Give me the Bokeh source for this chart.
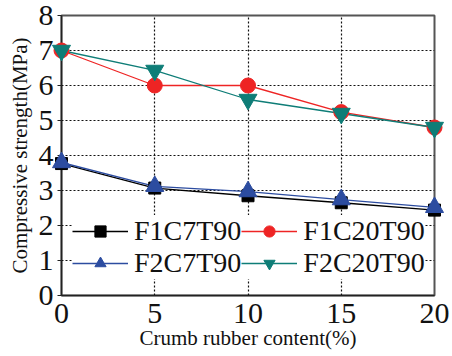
from bokeh.plotting import figure
from bokeh.models import Legend, LegendItem, FixedTicker, Range1d
from bokeh.embed import file_html
from bokeh.resources import INLINE

# Crumb rubber content (%)
content = [0, 5, 10, 15, 20]

# Compressive strength (MPa) per mix
f1c7t90 = [3.77, 3.07, 2.85, 2.65, 2.44]
f1c20t90 = [7.0, 6.0, 6.0, 5.24, 4.8]
f2c7t90 = [3.8, 3.12, 2.97, 2.74, 2.52]
f2c20t90 = [7.0, 6.43, 5.6, 5.2, 4.8]

x_ticks = [0, 5, 10, 15, 20]
y_ticks = [0, 1, 2, 3, 4, 5, 6, 7, 8]

FONT = "Liberation Serif"

p = figure(width=452, height=356, output_backend="svg", toolbar_location=None,
           x_range=Range1d(0, 20), y_range=Range1d(0, 8),
           min_border_left=61, min_border_right=18,
           min_border_top=15, min_border_bottom=61)

p.outline_line_color = "#555555"
p.outline_line_width = 2

for ax in (p.xaxis[0], p.yaxis[0]):
    ax.axis_line_color = "#222222"
    ax.axis_line_width = 1.5
    ax.major_label_text_font = FONT
    ax.major_label_text_font_size = "30px"
    ax.major_label_text_color = "#111111"
    ax.axis_label_text_font = FONT
    ax.axis_label_text_font_size = "21px"
    ax.axis_label_text_font_style = "normal"
    ax.axis_label_text_color = "#111111"
    ax.minor_tick_line_color = None
    ax.major_tick_line_color = "#222222"

p.xaxis.ticker = FixedTicker(ticks=x_ticks)
p.yaxis.ticker = FixedTicker(ticks=y_ticks)
p.xaxis.major_tick_in = 0
p.xaxis.major_tick_out = 0
p.yaxis.major_tick_in = 0
p.yaxis.major_tick_out = 4
p.xaxis.major_label_standoff = 8
p.yaxis.major_label_standoff = 4
p.xaxis.axis_label = "Crumb rubber content(%)"
p.yaxis.axis_label = "Compressive strength(MPa)"
p.xaxis.axis_label_standoff = 0
p.yaxis.axis_label_standoff = 4

for g in (p.xgrid[0], p.ygrid[0]):
    g.grid_line_color = "#111111"
    g.grid_line_dash = "2 2"
    g.grid_line_width = 1.2

series = [
    ("F1C7T90", f1c7t90, "#000000", "square", 12),
    ("F1C20T90", f1c20t90, "#ee2424", "circle", 15),
    ("F2C7T90", f2c7t90, "#2c4ca0", "triangle", 18),
    ("F2C20T90", f2c20t90, "#0e7d77", "inverted_triangle", 18),
]

items = {}
for name, vals, color, marker, size in series:
    ln = p.line(content, vals, line_color=color, line_width=1.3)
    sc = p.scatter(content, vals, marker=marker, size=size,
                   fill_color=color, line_color=color, level="overlay")
    items[name] = LegendItem(label=name, renderers=[ln, sc])

# the legend fills column by column
legend_order = ["F1C7T90", "F2C7T90", "F1C20T90", "F2C20T90"]
legend = Legend(items=[items[n] for n in legend_order], ncols=2, location=(11, 16),
                label_text_font=FONT, label_text_font_size="28px",
                label_text_color="#111111",
                glyph_width=56, glyph_height=28, label_standoff=6,
                spacing=0, padding=2, margin=0,
                border_line_color=None, background_fill_color="white",
                background_fill_alpha=1.0)
p.add_layout(legend, "center")

open("out.html", "w").write(file_html(p, INLINE))
